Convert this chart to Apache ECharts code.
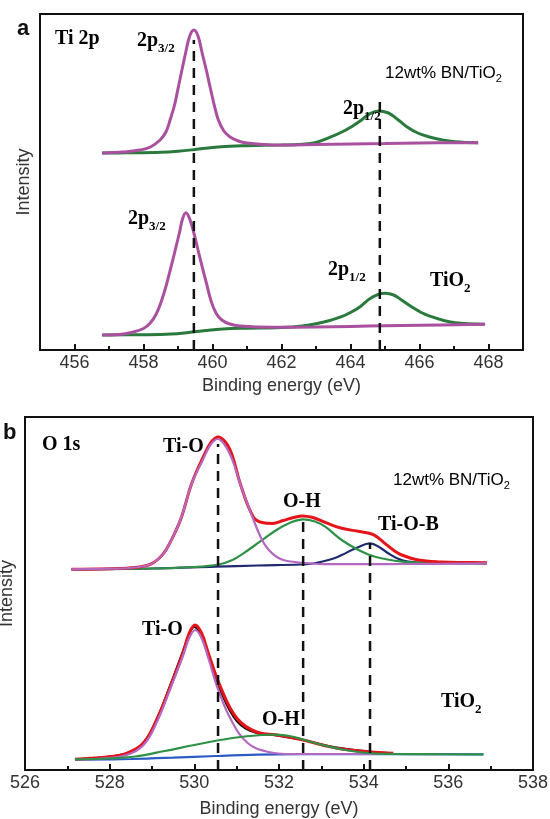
<!DOCTYPE html>
<html>
<head>
<meta charset="utf-8">
<script src="https://cdn.jsdelivr.net/npm/echarts@6/dist/echarts.min.js"></script>
<style>
  html, body { margin: 0; padding: 0; background: #fff; }
  #chart { width: 550px; height: 819px; }
</style>
</head>
<body>
<div id="chart"></div>
<script>
// ---- Panel a: Ti 2p (binding energy in eV, intensity in arbitrary units) ----
const aMajorTicks = [456, 458, 460, 462, 464, 466, 468];
const aMinorTicks = [457, 459, 461, 463, 465, 467];

// 12wt% BN/TiO2: 2p3/2 component on background
const aTopP32 = [[456.80,197],[457.40,198],[457.90,200],[458.20,203],[458.48,210],[458.65,218],[458.77,230],[458.90,245],[459.01,263],[459.12,281],[459.22,297],[459.34,314],[459.46,320],[459.58,314],[459.70,297],[459.82,280],[459.93,263],[460.05,245],[460.17,230],[460.33,219],[460.51,213],[460.75,209],[461.00,207],[461.50,205.5],[462.00,205],[463.00,205.5],[464.00,206],[465.00,206.5],[466.00,207],[467.70,207.3]];
// 12wt% BN/TiO2: 2p1/2 component on background
const aTopP12 = [[456.80,197],[457.50,197.2],[458.50,197.8],[459.00,198.8],[459.50,200.5],[460.00,202.5],[460.50,203.8],[461.00,204.3],[462.00,205],[462.60,205.8],[462.97,207.3],[463.45,213.3],[463.75,218],[464.03,223.3],[464.30,229.5],[464.55,236],[464.81,239],[465.10,237],[465.35,231],[465.63,223.3],[465.95,217],[466.26,213.3],[466.60,210.5],[467.03,208.3],[467.70,207.3]];
// TiO2: 2p3/2 component on background
const aBotP32 = [[456.80,15],[457.30,15.5],[457.70,18],[458.00,21.5],[458.19,26.7],[458.37,36],[458.53,50],[458.67,66],[458.80,83.3],[458.92,100],[459.04,117],[459.13,131],[459.23,137.3],[459.34,131],[459.46,117],[459.58,100],[459.70,83.3],[459.83,66],[459.95,50],[460.10,37],[460.27,30],[460.50,26],[460.80,24],[461.75,22.7],[463.00,23],[464.00,23.6],[465.00,24.2],[466.00,24.8],[467.90,25.7]];
// TiO2: 2p1/2 component on background
const aBotP12 = [[456.80,15],[458.00,15.3],[458.80,16],[459.30,17.5],[459.80,19.5],[460.30,21],[461.00,21.8],[462.00,22.5],[462.60,24],[463.07,26.7],[463.40,29.5],[463.74,33.3],[464.00,37.5],[464.28,43.3],[464.55,51],[464.80,55.5],[465.00,56.7],[465.25,55],[465.50,49.5],[465.77,43.3],[466.05,37.5],[466.35,33.3],[466.70,29.5],[467.03,27.3],[467.40,26.2],[467.90,25.7]];
// peak guides: [energy, top of guide]
const aGuides = [[459.46,310],[464.85,250]];

// ---- Panel b: O 1s ----
const bMajorTicks = [526, 528, 530, 532, 534, 536, 538];
const bMinorTicks = [527, 529, 531, 533, 535, 537];

// 12wt% BN/TiO2
const bTopEnvelope = [[527.10,200.7],[528.00,201.3],[528.60,202.5],[528.95,205.5],[529.15,211],[529.33,220],[529.55,238],[529.70,253.3],[529.94,286.7],[530.20,312],[530.40,328],[530.57,333],[530.75,327],[530.90,314],[531.08,287],[531.39,253.3],[531.60,247.5],[531.85,246.5],[532.10,249.5],[532.35,252.5],[532.55,254],[532.80,252.5],[533.10,247.5],[533.48,241.7],[533.90,238.5],[534.19,236],[534.35,232],[534.50,226.7],[534.70,220],[534.90,215],[535.29,210],[535.84,208],[536.40,207.5],[536.91,207.3]];
const bTopTiO = [[527.10,200.7],[528.00,201.3],[528.60,202.5],[528.95,205.5],[529.15,211],[529.33,220],[529.55,238],[529.70,253.3],[529.94,286.7],[530.20,310],[530.38,325],[530.55,331],[530.72,325],[530.90,310],[531.08,286.7],[531.37,253.3],[531.60,230],[531.76,220],[531.95,213],[532.14,209.5],[532.60,207],[533.20,205.8],[534.00,205.8],[535.00,206],[536.91,206.7]];
const bTopOH = [[527.10,200.7],[529.00,201.5],[530.00,203],[530.57,205.5],[530.90,210],[531.16,216.7],[531.55,228.3],[531.94,240],[532.25,247],[532.57,250.7],[532.85,248.5],[533.09,243.3],[533.48,230],[533.88,220],[534.27,213.3],[534.91,208.3],[535.50,207],[536.91,206.7]];
const bTopTiOB = [[527.10,200.7],[529.00,201.5],[530.50,203.3],[531.50,204.5],[532.50,205.5],[532.80,206.5],[533.00,208.3],[533.25,211],[533.48,215],[533.85,222.5],[534.15,226.7],[534.40,222],[534.58,216.7],[534.80,211.5],[535.05,208.3],[535.50,206.8],[536.91,206.7]];

// TiO2
const bBotRaw = [[527.18,10.7],[528.40,16.5],[528.80,27.5],[529.11,51],[529.43,85],[529.73,119],[529.88,136],[530.00,143],[530.15,135],[530.33,114],[530.60,81],[531.00,49],[531.47,37],[531.95,34.5],[532.57,30],[533.09,24.8],[533.48,21.8],[534.11,18.5],[534.66,16.7]];
const bBotEnvelope = [[527.18,10.7],[527.61,12],[528.00,13.3],[528.40,16.7],[528.80,27],[529.11,50],[529.43,83.3],[529.73,116.7],[529.88,137],[530.02,145],[530.17,137],[530.33,117],[530.60,85],[531.00,52],[531.47,38],[531.95,35],[532.57,30],[533.09,24.3],[533.48,21],[534.11,18.3],[534.70,16.7]];
const bBotTiO = [[527.18,10.5],[527.80,11.5],[528.40,15],[528.80,25],[529.11,47.5],[529.43,81],[529.73,114],[529.88,132],[530.02,140],[530.17,132],[530.33,112],[530.55,82],[530.87,50],[531.26,27],[531.73,18.3],[532.30,16],[533.50,16],[534.50,16]];
const bBotOH = [[527.18,10.7],[528.00,11.5],[528.60,13.5],[529.30,19],[530.00,25],[530.90,32],[531.60,35],[531.90,35.3],[532.30,33.5],[532.60,30],[533.10,24.3],[533.50,20.5],[534.10,17],[534.70,16],[535.50,15.8],[536.83,15.7]];
const bBotBackground = [[527.18,10.3],[528.50,11],[529.50,12.3],[530.50,14],[531.50,15.3],[532.50,15.8],[534.00,15.9],[536.83,15.7]];
const bGuides = [[530.56,326],[532.57,255],[534.15,227]];

const SANS = '"Liberation Sans", Arial, sans-serif';
const SERIF = '"Liberation Serif", "Times New Roman", serif';

function curve(data, color, width, xi, yi, z) {
  return {
    type: 'line', data: data, xAxisIndex: xi, yAxisIndex: yi,
    showSymbol: false, symbol: 'none', smooth: 0.4, z: z || 2,
    lineStyle: { color: color, width: width }, silent: true
  };
}
function guideSeries(guides, xi, yi) {
  return guides.map(g => ({
    type: 'line', data: [[g[0], 0], [g[0], g[1]]], xAxisIndex: xi, yAxisIndex: yi,
    symbol: 'none', z: 10, silent: true,
    lineStyle: { color: '#111', width: 2.5, type: [10, 7] }
  }));
}
function mainXAxis(grid, min, max, ticks, gap) {
  return {
    gridIndex: grid, type: 'value', min: min, max: max, position: 'bottom',
    axisLine: { show: true, onZero: false, lineStyle: { color: '#111', width: 2 } },
    axisTick: { show: true, inside: true, length: 6, customValues: ticks, lineStyle: { color: '#111', width: 2 } },
    axisLabel: { show: true, customValues: ticks, fontSize: 18, color: '#333', fontFamily: SANS, margin: 4 },
    splitLine: { show: false },
    name: 'Binding energy (eV)', nameLocation: 'middle', nameGap: gap,
    nameTextStyle: { fontSize: 18, color: '#333', fontFamily: SANS }
  };
}
function minorXAxis(grid, min, max, ticks) {
  return {
    gridIndex: grid, type: 'value', min: min, max: max, position: 'bottom',
    axisLine: { show: false },
    axisTick: { show: true, inside: true, length: 4, customValues: ticks, lineStyle: { color: '#111', width: 2 } },
    axisLabel: { show: false }, splitLine: { show: false }
  };
}
function intensityAxis(grid, max, gap) {
  return {
    gridIndex: grid, type: 'value', min: 0, max: max,
    axisLine: { show: false }, axisTick: { show: false }, axisLabel: { show: false },
    splitLine: { show: false },
    name: 'Intensity', nameLocation: 'middle', nameGap: gap,
    nameTextStyle: { fontSize: 18, color: '#333', fontFamily: SANS }
  };
}

// bold serif peak labels with lowered subscripts
const serifRich = {
  m: { fontFamily: SERIF, fontWeight: 'bold', fontSize: 20, lineHeight: 20, color: '#111', verticalAlign: 'top' },
  s: { fontFamily: SERIF, fontWeight: 'bold', fontSize: 13, lineHeight: 13, color: '#111', verticalAlign: 'top', padding: [11, 0, 0, 0] }
};
// sample names in plain sans
const sansRich = {
  m: { fontFamily: SANS, fontSize: 17, lineHeight: 17, color: '#333', verticalAlign: 'top' },
  s: { fontFamily: SANS, fontSize: 11, lineHeight: 11, color: '#333', verticalAlign: 'top', padding: [9, 0, 0, 0] }
};
function label(x, y, text, rich) {
  return { type: 'text', x: x, y: y, z: 20, silent: true,
    style: { text: text, rich: rich, align: 'left', verticalAlign: 'middle' } };
}
function panelLetter(x, y, t) {
  return { type: 'text', x: x, y: y, z: 20, silent: true,
    style: { text: t, font: 'bold 22px ' + SANS, fill: '#111', align: 'left', verticalAlign: 'middle' } };
}

const chart = echarts.init(document.getElementById('chart'), null, { renderer: 'canvas' });
chart.setOption({
  animation: false,
  backgroundColor: '#fff',
  grid: [
    { left: 40, top: 14, width: 483, height: 336, show: true, borderColor: '#111', borderWidth: 2, containLabel: false, outerBoundsMode: 'none' },
    { left: 25, top: 417, width: 508, height: 353, show: true, borderColor: '#111', borderWidth: 2, containLabel: false, outerBoundsMode: 'none' }
  ],
  xAxis: [
    mainXAxis(0, 455, 469, aMajorTicks, 27),
    minorXAxis(0, 455, 469, aMinorTicks),
    mainXAxis(1, 526, 538, bMajorTicks, 30),
    minorXAxis(1, 526, 538, bMinorTicks)
  ],
  yAxis: [
    intensityAxis(0, 336, 7),
    intensityAxis(1, 353, 9)
  ],
  series: [
    curve(aTopP12, '#2a7a3e', 3, 0, 0, 2),
    curve(aTopP32, '#a9519f', 3, 0, 0, 3),
    curve(aBotP12, '#2a7a3e', 3, 0, 0, 2),
    curve(aBotP32, '#a9519f', 3, 0, 0, 3),
    ...guideSeries(aGuides, 0, 0),

    curve(bTopTiOB, '#1f2a6e', 2.2, 2, 1, 2),
    curve(bTopOH, '#2e9147', 2.2, 2, 1, 3),
    curve(bTopEnvelope, '#e5141b', 3, 2, 1, 4),
    curve(bTopTiO, '#b469c0', 2.2, 2, 1, 5),

    curve(bBotBackground, '#2d5bc4', 2.2, 2, 1, 2),
    curve(bBotRaw, '#111', 2, 2, 1, 3),
    curve(bBotEnvelope, '#e5141b', 3, 2, 1, 4),
    curve(bBotTiO, '#b469c0', 2.2, 2, 1, 5),
    curve(bBotOH, '#2e9147', 2.2, 2, 1, 6),
    ...guideSeries(bGuides, 2, 1)
  ],
  graphic: [
    panelLetter(17, 29, 'a'),
    label(55, 39, '{m|Ti 2p}', serifRich),
    label(137, 41, '{m|2p}{s|3/2}', serifRich),
    label(385, 73, '{m|12wt% BN/TiO}{s|2}', sansRich),
    label(343, 109, '{m|2p}{s|1/2}', serifRich),
    label(128, 219, '{m|2p}{s|3/2}', serifRich),
    label(328, 270, '{m|2p}{s|1/2}', serifRich),
    label(430, 281, '{m|TiO}{s|2}', serifRich),

    panelLetter(3, 433, 'b'),
    label(42, 445, '{m|O 1s}', serifRich),
    label(163, 447, '{m|Ti-O}', serifRich),
    label(393, 480, '{m|12wt% BN/TiO}{s|2}', sansRich),
    label(283, 502, '{m|O-H}', serifRich),
    label(378, 525, '{m|Ti-O-B}', serifRich),
    label(142, 630, '{m|Ti-O}', serifRich),
    label(262, 720, '{m|O-H}', serifRich),
    label(441, 702, '{m|TiO}{s|2}', serifRich)
  ]
});
</script>
</body>
</html>
